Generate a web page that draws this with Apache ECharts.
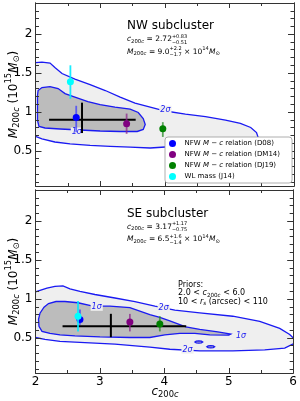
<!DOCTYPE html>
<html><head><meta charset="utf-8">
<script src="https://cdn.jsdelivr.net/npm/echarts@6/dist/echarts.min.js"></script>
<style>html,body{margin:0;padding:0;background:#fff}#c{width:300px;height:401px}</style>
</head><body><div id="c"></div>
<script>
// ---------------- data ----------------
const xMin = 2, xMax = 6;
const yMin = 0.05, yMax = 2.4;
const yTickVals = [0.5, 1, 1.5, 2];
const yTickLabels = ['0.5', '1', '1.5', '2'];
const yMinorTicks = [0.1,0.2,0.3,0.4,0.6,0.7,0.8,0.9,1.1,1.2,1.3,1.4,1.6,1.7,1.8,1.9,2.1,2.2,2.3];

const methods = ['D08', 'DM14', 'DJ19', 'J14'];
const methodKind = ['mc', 'mc', 'mc', 'wl'];
const methodColors = ['#0000ff', '#800080', '#008000', '#00ffff'];
const barColors = ['rgba(60,60,255,0.75)', 'rgba(140,40,140,0.75)', 'rgba(40,140,40,0.75)', 'rgba(0,235,255,0.9)'];

// NW subcluster points (c200c, M200c in 1e15 Msun, error bar ends)
const nwC = [2.63, 3.41, 3.97, 2.54];
const nwM = [0.93, 0.85, 0.785, 1.39];
const nwMLow = [0.74, 0.72, 0.68, 1.17];
const nwMHigh = [1.08, 0.98, 0.87, 1.60];
// SE subcluster points
const seC = [2.69, 3.465, 3.93, 2.66];
const seM = [0.736, 0.705, 0.679, 0.779];
const seMLow = [0.67, 0.584, 0.584, 0.584];
const seMHigh = [0.866, 0.809, 0.779, 0.974];

// best fits [NW, SE]
const fitC = [2.72, 3.17];
const fitCLow = [2.21, 2.42];
const fitCHigh = [3.55, 4.34];
const fitM = [0.90, 0.65];
const fitMLow = [0.73, 0.51];
const fitMHigh = [1.12, 0.81];

// contours (c200c, M200c)
const nw2sigma = [[2.0,1.635],[2.10,1.641],[2.225,1.628],[2.30,1.571],[2.41,1.494],[2.61,1.423],[2.845,1.353],[3.08,1.276],[3.31,1.192],[3.54,1.115],[3.775,1.064],[4.01,1.013],[4.32,0.974],[4.63,0.942],[4.94,0.897],[5.17,0.853],[5.33,0.801],[5.42,0.737],[5.45,0.66],[5.40,0.60],[5.25,0.575],[4.86,0.56],[4.3,0.55],[4.01,0.551],[3.775,0.538],[3.465,0.549],[3.155,0.558],[2.845,0.571],[2.535,0.590],[2.30,0.615],[2.10,0.654],[2.0,0.686]];
const nw1sigma = [[2.04,1.276],[2.10,1.314],[2.225,1.327],[2.35,1.301],[2.457,1.237],[2.61,1.192],[2.81,1.135],[3.0,1.096],[3.23,1.064],[3.465,1.038],[3.59,0.994],[3.667,0.917],[3.698,0.840],[3.667,0.776],[3.574,0.750],[3.31,0.750],[3.0,0.756],[2.69,0.769],[2.38,0.782],[2.147,0.795],[2.054,0.814],[2.031,0.891],[2.031,1.212]];
const se2sigma = [[2.0,1.091],[2.07,1.110],[2.178,1.139],[2.302,1.162],[2.426,1.169],[2.535,1.130],[2.69,1.097],[2.922,1.058],[3.233,1.013],[3.543,0.968],[3.853,0.909],[4.163,0.857],[4.55,0.822],[5.062,0.779],[5.481,0.714],[5.791,0.623],[5.946,0.545],[6.01,0.494],[6.01,0.429],[5.868,0.370],[5.558,0.347],[5.062,0.334],[4.55,0.334],[4.085,0.355],[3.775,0.383],[3.233,0.422],[2.69,0.442],[2.38,0.455],[2.147,0.481],[2.0,0.506]];
const se1sigma = [[2.047,0.740],[2.07,0.818],[2.132,0.896],[2.202,0.942],[2.318,0.968],[2.457,0.968],[2.659,0.952],[2.891,0.909],[3.155,0.909],[3.465,0.890],[3.775,0.80],[3.93,0.765],[4.085,0.720],[4.333,0.643],[4.55,0.610],[4.829,0.578],[5.031,0.549],[5.0,0.536],[4.705,0.539],[4.473,0.558],[4.24,0.558],[4.008,0.539],[3.775,0.506],[3.465,0.506],[3.0,0.513],[2.612,0.526],[2.38,0.539],[2.225,0.558],[2.101,0.584],[2.054,0.649]];
const seIsland1 = [[4.475,0.448],[4.495,0.459],[4.535,0.463],[4.575,0.459],[4.595,0.448],[4.575,0.437],[4.535,0.433],[4.495,0.437]];
const seIsland2 = [[4.66,0.387],[4.68,0.398],[4.72,0.402],[4.76,0.398],[4.78,0.387],[4.76,0.376],[4.72,0.372],[4.68,0.376]];

const nwContourLabels = [[2.64, 0.75, '1σ'], [4.01, 1.03, '2σ']];
const seContourLabels = [[2.95, 0.90, '1σ'], [3.99, 0.88, '2σ'], [4.36, 0.35, '2σ'], [5.19, 0.52, '1σ']];

// ---------------- style ----------------
const FONT = '"DejaVu Sans", "Liberation Sans", sans-serif';
const BLUE = '#1a1af2';
const LIGHT = '#efefef';
const DARK = '#bcbcbc';
const AX = '#333';

// ---------------- text helpers ----------------
const mctx = document.createElement('canvas').getContext('2d');
function tw(t, s, it) { mctx.font = (it ? 'italic ' : '') + s + 'px ' + FONT; return mctx.measureText(t).width; }
function txt(t, x, y, s, it) {
  return {type: 'text', x: x, y: y, style: {text: t, fontSize: s, fontFamily: FONT, fontStyle: it ? 'italic' : 'normal', fill: '#000', align: 'left', verticalAlign: 'middle'}};
}
function run(pieces) {
  let x = 0; const els = [];
  for (const p of pieces) {
    if (p.stack) {
      els.push(txt(p.stack[0], x, p.up, p.s, false));
      els.push(txt(p.stack[1], x, p.down, p.s, false));
      x += Math.max(tw(p.stack[0], p.s), tw(p.stack[1], p.s)) + (p.gap || 0);
    } else {
      els.push(txt(p.t, x, p.dy || 0, p.s, p.i));
      x += tw(p.t, p.s, p.i) + (p.gap || 0);
    }
  }
  return {els: els, width: x};
}
function textLine(x, y, pieces) { return {type: 'group', x: x, y: y, z: 40, children: run(pieces).els}; }
function rotatedCentered(x, y, pieces) {
  const r = run(pieces);
  r.els.forEach(e => e.x -= r.width / 2);
  return {type: 'group', x: x, y: y, rotation: Math.PI / 2, z: 40, children: r.els};
}
const yLabelPieces = [{t:'M',s:12,i:1},{t:'200',s:8.4,dy:3},{t:'c',s:8.4,i:1,dy:3},{t:' (10',s:12},{t:'15',s:8.4,dy:-4.5},{t:'M',s:12,i:1},{t:'⊙',s:8.4,dy:3},{t:')',s:12}];

function panelText(y0, name, cVal, cErr, mVal, mErr) {
  return [
    textLine(127, y0, [{t: name, s: 12}]),
    textLine(127, y0 + 13.5, [{t:'c',s:7.5,i:1},{t:'200',s:5.3,dy:2},{t:'c',s:5.3,i:1,dy:2},{t:' = ' + cVal,s:7.5},{stack:cErr,s:5,up:-3,down:3}]),
    textLine(127, y0 + 26, [{t:'M',s:7.5,i:1},{t:'200',s:5.3,dy:2},{t:'c',s:5.3,i:1,dy:2},{t:' = ' + mVal,s:7.5},{stack:mErr,s:5,up:-3,down:3},{t:' × 10',s:7.5},{t:'14',s:5.3,dy:-3},{t:'M',s:7.5,i:1},{t:'⊙',s:5.3,dy:2}])
  ];
}

// ---------------- axes ----------------
function xAx(grid, pos, labels) {
  return {type: 'value', gridIndex: grid, position: pos, min: xMin, max: xMax, interval: 1, z: 30,
    axisLine: {show: true, onZero: false, lineStyle: {color: AX, width: 1}},
    axisTick: {show: true, inside: true, length: 5, lineStyle: {color: AX}},
    minorTick: {show: true, splitNumber: 2, length: 3, lineStyle: {color: AX}},
    axisLabel: {show: labels, showMinLabel: true, showMaxLabel: true, fontSize: 12, fontFamily: FONT, color: '#000', margin: 3},
    splitLine: {show: false}, minorSplitLine: {show: false}};
}
function yAx(grid, pos, major, labels) {
  return {type: 'value', gridIndex: grid, position: pos, min: yMin, max: yMax, z: 30,
    axisLine: {show: true, onZero: false, lineStyle: {color: AX, width: 1}},
    axisTick: {show: true, inside: true, length: major ? 6 : 3.5, customValues: major ? yTickVals : yMinorTicks, lineStyle: {color: AX}},
    axisLabel: {show: labels, customValues: yTickVals, fontSize: 12, fontFamily: FONT, color: '#000', margin: 3,
      formatter: v => { const k = yTickVals.indexOf(v); return k >= 0 ? yTickLabels[k] : String(v); }},
    splitLine: {show: false}};
}

// ---------------- series ----------------
function poly(pts, closed, fill, xi, yi, z) {
  return {type: 'custom', xAxisIndex: xi, yAxisIndex: yi, z: z, silent: true, clip: true,
    data: [pts[0]],
    renderItem: (params, api) => {
      const p = pts.map(d => api.coord(d));
      const ch = [{type: 'polygon', shape: {points: p}, style: {fill: fill, stroke: null}}];
      ch.push({type: closed ? 'polygon' : 'polyline', shape: {points: p}, style: {fill: null, stroke: BLUE, lineWidth: 1.3}});
      return {type: 'group', children: ch};
    }};
}
function panelSeries(g, C, M, Mlo, Mhi, c2, c1, islands, labels) {
  const xi = g * 2, yi = g * 4;
  const s = [];
  s.push(poly(c2, false, LIGHT, xi, yi, 1));
  s.push(poly(c1, true, DARK, xi, yi, 2));
  islands.forEach(p => s.push(poly(p, true, DARK, xi, yi, 2)));
  s.push({type: 'custom', xAxisIndex: xi, yAxisIndex: yi, z: 3, silent: true, clip: true,
    data: labels.map(l => [l[0], l[1]]),
    renderItem: (params, api) => {
      const pt = api.coord([api.value(0), api.value(1)]);
      return {type: 'text', x: pt[0], y: pt[1], style: {text: labels[params.dataIndex][2], fontSize: 8, fontFamily: FONT, fontStyle: 'italic', fill: BLUE, align: 'center', verticalAlign: 'middle', backgroundColor: LIGHT, padding: [0, 1]}};
    }});
  s.push({type: 'custom', xAxisIndex: xi, yAxisIndex: yi, z: 5, silent: true,
    data: [[fitC[g], fitM[g], fitCLow[g], fitCHigh[g], fitMLow[g], fitMHigh[g]]],
    renderItem: (params, api) => {
      const h1 = api.coord([api.value(2), api.value(1)]), h2 = api.coord([api.value(3), api.value(1)]);
      const v1 = api.coord([api.value(0), api.value(4)]), v2 = api.coord([api.value(0), api.value(5)]);
      return {type: 'group', children: [
        {type: 'line', shape: {x1: h1[0], y1: h1[1], x2: h2[0], y2: h2[1]}, style: {stroke: '#000', lineWidth: 2}},
        {type: 'line', shape: {x1: v1[0], y1: v1[1], x2: v2[0], y2: v2[1]}, style: {stroke: '#000', lineWidth: 2}}]};
    }});
  methods.forEach((m, i) => {
    s.push({type: 'custom', xAxisIndex: xi, yAxisIndex: yi, z: 10 + 2 * i, silent: true,
      data: [[C[i], Mlo[i], Mhi[i]]],
      renderItem: (params, api) => {
        const a = api.coord([api.value(0), api.value(1)]), b = api.coord([api.value(0), api.value(2)]);
        return {type: 'line', shape: {x1: a[0], y1: a[1], x2: b[0], y2: b[1]}, style: {stroke: barColors[i], lineWidth: 1.8}};
      }});
    s.push({type: 'scatter', name: m, xAxisIndex: xi, yAxisIndex: yi, z: 11 + 2 * i, symbol: 'circle', symbolSize: 7,
      itemStyle: {color: methodColors[i], opacity: 1}, data: [[C[i], M[i]]]});
  });
  return s;
}

const series = [].concat(
  panelSeries(0, nwC, nwM, nwMLow, nwMHigh, nw2sigma, nw1sigma, [], nwContourLabels),
  panelSeries(1, seC, seM, seMLow, seMHigh, se2sigma, se1sigma, [seIsland1, seIsland2], seContourLabels)
);

const graphics = [].concat(
  panelText(26, 'NW subcluster', '2.72', ['+0.83', '−0.51'], '9.0', ['+2.2', '−1.7']),
  panelText(213.5, 'SE subcluster', '3.17', ['+1.17', '−0.75'], '6.5', ['+1.6', '−1.4']),
  [
    textLine(178, 284.5, [{t: 'Priors:', s: 8}]),
    textLine(178, 293.2, [{t:'2.0 < ',s:8},{t:'c',s:8,i:1},{t:'200',s:5.6,dy:2},{t:'c',s:5.6,i:1,dy:2},{t:' < 6.0',s:8}]),
    textLine(178, 302, [{t:'10 < ',s:8},{t:'r',s:8,i:1},{t:'s',s:5.6,i:1,dy:2},{t:' (arcsec) < 110',s:8}]),
    rotatedCentered(13.5, 94.5, yLabelPieces),
    rotatedCentered(13.5, 281.5, yLabelPieces),
    (function () { const r = run([{t:'c',s:12,i:1},{t:'200',s:8.4,dy:3},{t:'c',s:8.4,i:1,dy:3}]); r.els.forEach(e => e.x -= r.width / 2); return {type: 'group', x: 165, y: 392, z: 40, children: r.els}; })()
  ]
);

const chart = echarts.init(document.getElementById('c'), null, {renderer: 'canvas', width: 300, height: 401});
chart.setOption({
  animation: false,
  backgroundColor: '#fff',
  grid: [
    {left: 35.5, top: 3, width: 258.5, height: 183},
    {left: 35.5, top: 190, width: 258.5, height: 183}
  ],
  xAxis: [xAx(0, 'bottom', false), xAx(0, 'top', false), xAx(1, 'bottom', true), xAx(1, 'top', false)],
  yAxis: [
    yAx(0, 'left', true, true), yAx(0, 'right', true, false), yAx(0, 'left', false, false), yAx(0, 'right', false, false),
    yAx(1, 'left', true, true), yAx(1, 'right', true, false), yAx(1, 'left', false, false), yAx(1, 'right', false, false)
  ],
  legend: {
    data: methods, orient: 'vertical', left: 165, top: 137, z: 50, selectedMode: false,
    itemWidth: 14, itemHeight: 7, itemGap: 4, padding: [3, 12, 3, 4], icon: 'circle',
    backgroundColor: '#fff', borderColor: '#999', borderWidth: 0.8, borderRadius: 3,
    formatter: name => {
      const k = methods.indexOf(name);
      return methodKind[k] === 'mc' ? '{n|NFW }{i|M}{n| − }{i|c}{n| relation (' + name + ')}' : '{n|WL mass (' + name + ')}';
    },
    textStyle: {fontSize: 7, fontFamily: FONT, color: '#000', lineHeight: 7,
      rich: {n: {fontSize: 7, fontFamily: FONT, color: '#000', lineHeight: 7}, i: {fontSize: 7, fontFamily: FONT, fontStyle: 'italic', color: '#000', lineHeight: 7}}}
  },
  graphic: {elements: graphics},
  series: series
});
</script>
</body></html>
